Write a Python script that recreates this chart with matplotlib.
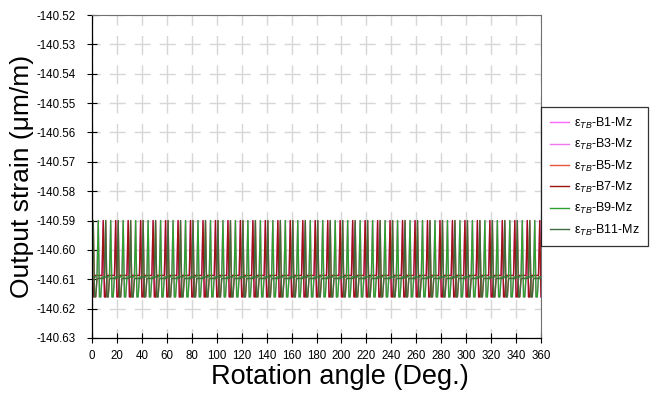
import matplotlib
matplotlib.use("Agg")
import matplotlib.pyplot as plt
import numpy as np

plt.rcParams['font.family'] = ['Liberation Sans', 'DejaVu Sans']
plt.rcParams['mathtext.fontset'] = 'custom'
plt.rcParams['mathtext.rm'] = 'Liberation Sans'
plt.rcParams['mathtext.it'] = 'Liberation Sans:italic'

# angles sampled every degree
angles = np.arange(0, 361)

# levels
peak_level = -140.590
trough_level = -140.616
base_b7 = -140.6087
base_b9 = -140.6092
base_b11 = -140.6097

# angles (deg) where each series spikes up; two samples after each spike sit at the trough
peaks_b7 = [-1, 9, 19, 29, 39, 49, 59, 69, 79, 89, 99, 109, 119, 129, 139, 149, 159, 169, 179,
            189, 199, 209, 219, 229, 239, 249, 259, 269, 279, 289, 299, 309, 319, 329, 339, 349, 359]
peaks_b9 = [5, 15, 25, 35, 45, 55, 65, 75, 85, 95, 105, 115, 125, 135, 145, 155, 165, 175,
            185, 195, 205, 215, 225, 235, 245, 255, 265, 275, 285, 295, 305, 315, 325, 335, 345, 355]
peaks_b11 = [1, 11, 21, 31, 41, 51, 61, 71, 81, 91, 101, 111, 121, 131, 141, 151, 161, 171,
             181, 191, 201, 211, 221, 231, 241, 251, 261, 271, 281, 291, 301, 311, 321, 331, 341, 351]

labels = [r'ε$_{TB}$-B1-Mz', r'ε$_{TB}$-B3-Mz', r'ε$_{TB}$-B5-Mz',
          r'ε$_{TB}$-B7-Mz', r'ε$_{TB}$-B9-Mz', r'ε$_{TB}$-B11-Mz']
colors = ['#ff66ff', '#ee77ee', '#e8553a', '#9c1414', '#2ea02e', '#3d6b3d']


def build(base, peaks):
    y = np.full(angles.shape, base)
    for p in peaks:
        if 0 <= p <= 360:
            y[p] = peak_level
        for q in (p + 1, p + 2):
            if 0 <= q <= 360:
                y[q] = trough_level
    return y


s7 = build(base_b7, peaks_b7)
s9 = build(base_b9, peaks_b9)
s11 = build(base_b11, peaks_b11)
series = [s7, s9, s11, s7, s9, s11]

fig = plt.figure(figsize=(6.53, 3.93), dpi=100)
ax = fig.add_axes([92 / 653, 1 - 338 / 393, 449 / 653, 323 / 393])

for y, c, lab in zip(series, colors, labels):
    ax.plot(angles, y, color=c, lw=1.0, label=lab)

ax.set_xlim(0, 360)
ax.set_ylim(-140.63, -140.52)
ax.set_xticks(np.arange(0, 361, 20))
ax.set_yticks(np.arange(-140.63, -140.5199, 0.01))
ax.yaxis.set_major_formatter(matplotlib.ticker.FormatStrFormatter('%.2f'))
ax.tick_params(direction='inout', length=7, width=0.8, labelsize=8.3)
ax.tick_params(axis='y', pad=8)
ax.tick_params(axis='x', pad=5)

# dashed grid with dashes crossing at intersections
for t in np.arange(-140.63, -140.5199, 0.01):
    ax.axhline(t, color='#d6d6d6', lw=1.0, linestyle=(5.6, (11.5, 6.5)), zorder=0)
for t in np.arange(0, 361, 20):
    ax.axvline(t, color='#d6d6d6', lw=1.0, linestyle=(6.8, (13.6, 7.5)), zorder=0)

ax.spines['left'].set_linewidth(0.9)
ax.spines['bottom'].set_linewidth(0.9)
for side in ('top', 'right'):
    ax.spines[side].set_color('#707070')
    ax.spines[side].set_linewidth(0.8)

ax.set_xlabel('Rotation angle (Deg.)', fontsize=19.5)
ax.xaxis.set_label_coords((340 - 92) / 449, -0.082)
ax.set_ylabel('Output strain (\u03bcm/m)', fontsize=19, labelpad=2)

leg = ax.legend(loc='upper left', bbox_to_anchor=(541 / 653, 1 - 107 / 393),
                bbox_transform=fig.transFigure, fontsize=9, frameon=True, fancybox=False,
                handlelength=1.5, handletextpad=0.4, labelspacing=0.5, borderpad=0.7,
                borderaxespad=0)
leg.get_frame().set_edgecolor('black')
leg.get_frame().set_linewidth(0.9)

fig.savefig('out.png', dpi=100)
